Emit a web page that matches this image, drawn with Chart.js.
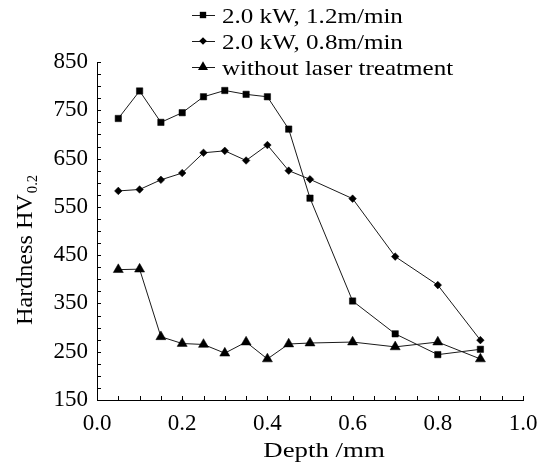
<!DOCTYPE html>
<html>
<head>
<meta charset="utf-8">
<script src="https://cdn.jsdelivr.net/npm/chart.js@4.4.1/dist/chart.umd.min.js"></script>
<style>
  body { margin: 0; background: #fff; }
</style>
</head>
<body>
<canvas id="myChart" width="546" height="463"></canvas>
<script>
// depth (mm) and hardness readings
const depth = [0.05, 0.1, 0.15, 0.2, 0.25, 0.3, 0.35, 0.4, 0.45, 0.5, 0.6, 0.7, 0.8, 0.9];
const fast = [733, 790, 725, 745, 778, 791, 783, 778, 711, 568, 355, 287, 244, 255];
const slow = [583, 586, 606, 620, 662, 666, 646, 678, 625, 607, 567, 447, 388, 274];
const untreated = [420, 421, 281, 267, 265, 247, 270, 235, 266, 268, 270, 260, 270, 235];
const labels = ['2.0 kW, 1.2m/min', '2.0 kW, 0.8m/min', 'without laser treatment'];
const styles = ['rect', 'rectRot', 'triangle'];
const radii = [4.5, 3.8, 5.8];

const serif = '"Liberation Serif", "Times New Roman", serif';
const ctx = document.getElementById('myChart');

function pts(ys) {
    return depth.map((d, i) => ({ x: d, y: ys[i] }));
}

const datasets = [fast, slow, untreated].map((ys, i) => ({
    label: labels[i],
    data: pts(ys),
    borderColor: '#1a1a1a',
    borderWidth: 1,
    backgroundColor: '#000',
    pointStyle: styles[i],
    pointRadius: radii[i],
    pointBackgroundColor: '#000',
    pointBorderColor: '#000',
    pointBorderWidth: 0.5,
    tension: 0
}));

// inward tick marks, legend and axis titles
const extras = {
    id: 'extras',
    afterDraw(chart) {
        const c = chart.ctx;
        const xs = chart.scales.x, ys = chart.scales.y;
        const area = chart.chartArea;
        c.save();
        c.strokeStyle = '#000';
        c.lineWidth = 1;
        c.beginPath();
        for (let i = 0; i <= 20; i++) {
            const px = Math.round(xs.getPixelForValue(i * 0.05)) + 0.5;
            c.moveTo(px, area.bottom);
            c.lineTo(px, area.bottom - 4);
        }
        for (let v = 150; v <= 850; v += 25) {
            const py = Math.round(ys.getPixelForValue(v)) + 0.5;
            c.moveTo(area.left, py);
            c.lineTo(area.left + 4, py);
        }
        c.stroke();

        // legend
        chart.data.datasets.forEach((ds, i) => {
            const cy = 15 + i * 26;
            c.strokeStyle = '#1a1a1a';
            c.beginPath();
            c.moveTo(192, cy + 0.5);
            c.lineTo(215, cy + 0.5);
            c.stroke();
            c.fillStyle = '#000';
            Chart.helpers.drawPoint(c, { pointStyle: ds.pointStyle, radius: ds.pointRadius, borderWidth: 0 }, 203, cy);
            c.save();
            c.translate(222, cy + 8);
            c.scale(1.14, 1);
            c.font = '22px ' + serif;
            c.textBaseline = 'alphabetic';
            c.fillText(ds.label, 0, 0);
            c.restore();
        });

        // x title
        c.save();
        c.font = '22px ' + serif;
        c.textAlign = 'center';
        c.translate(324, 457);
        c.scale(1.22, 1);
        c.fillText('Depth /mm', 0, 0);
        c.restore();

        // y title with subscript
        c.save();
        c.translate(32, 325);
        c.rotate(-Math.PI / 2);
        c.scale(1.05, 1);
        c.font = '23px ' + serif;
        c.textBaseline = 'alphabetic';
        c.fillText('Hardness HV', 0, 0);
        const w = c.measureText('Hardness HV').width;
        c.font = '14px ' + serif;
        c.fillText('0.2', w + 1, 5);
        c.restore();
        c.restore();
    }
};

new Chart(ctx, {
    type: 'line',
    data: { datasets: datasets },
    options: {
        responsive: false,
        animation: false,
        layout: { padding: { top: 62, right: 23, left: 0, bottom: 0 } },
        plugins: {
            legend: { display: false },
            tooltip: { enabled: false }
        },
        scales: {
            x: {
                type: 'linear',
                min: 0,
                max: 1,
                grid: { display: false, drawTicks: true, tickLength: 4 },
                border: { display: true, color: '#000', width: 1 },
                ticks: {
                    stepSize: 0.2,
                    padding: 6,
                    color: '#000',
                    font: { family: serif, size: 23 },
                    callback: v => v.toFixed(1)
                },
                afterFit: s => { s.height = 63; }
            },
            y: {
                min: 150,
                max: 850,
                grid: { display: false, drawTicks: false },
                border: { display: true, color: '#000', width: 1 },
                ticks: {
                    stepSize: 100,
                    padding: 9,
                    color: '#000',
                    font: { family: serif, size: 23 }
                },
                afterFit: s => { s.width = 97; }
            }
        }
    },
    plugins: [extras]
});
</script>
</body>
</html>
